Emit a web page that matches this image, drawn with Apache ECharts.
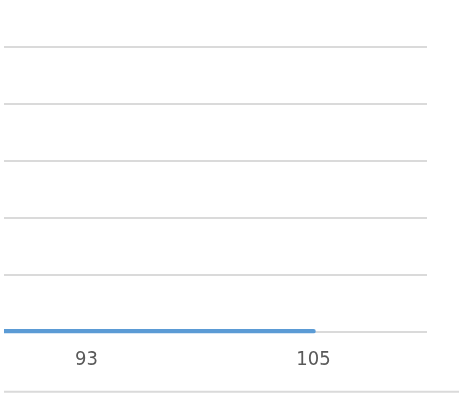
<!DOCTYPE html>
<html>
<head>
<meta charset="utf-8">
<script src="https://cdn.jsdelivr.net/npm/echarts@6/dist/echarts.min.js"></script>
<style>
  html, body { margin: 0; padding: 0; background: #ffffff; }
  #frame { position: absolute; left: 4px; top: 0; width: 455px; height: 397px; overflow: hidden; }
  #chart { position: absolute; left: -258px; top: 0; width: 713px; height: 397px; }
</style>
</head>
<body>
<div id="frame"><div id="chart"></div></div>
<script>
// Category labels along the x axis (the first band lies outside the visible frame)
const categories = ['81', '93', '105'];
// Series values, one per category
const seriesValues = [0, 0, 0];
// Value axis range and step
const yMin = 0;
const yMax = 5;
const yStep = 1;

const chart = echarts.init(document.getElementById('chart'), null, { renderer: 'canvas' });

chart.setOption({
  animation: false,
  backgroundColor: '#ffffff',
  grid: { left: 0, right: 32, top: 47, bottom: 65.7 },
  xAxis: {
    type: 'category',
    data: categories,
    boundaryGap: true,
    axisLine: { show: false },
    axisTick: { show: false },
    axisLabel: {
      margin: 18,
      color: '#595959',
      fontSize: 20,
      fontFamily: '"DejaVu Sans Condensed", "DejaVu Sans", sans-serif'
    },
    splitLine: { show: false }
  },
  yAxis: {
    type: 'value',
    min: yMin,
    max: yMax,
    interval: yStep,
    axisLine: { show: false },
    axisTick: { show: false },
    axisLabel: { show: false },
    splitLine: { show: true, lineStyle: { color: '#dadada', width: 2 } }
  },
  series: [{
    type: 'line',
    data: seriesValues,
    showSymbol: false,
    lineStyle: { color: '#5b9bd5', width: 4.5, cap: 'round' },
    itemStyle: { color: '#5b9bd5' }
  }],
  graphic: [{
    type: 'line',
    shape: { x1: 0, y1: 391.7, x2: 713, y2: 391.7 },
    style: { stroke: '#dadada', lineWidth: 2 },
    silent: true
  }]
});
</script>
</body>
</html>
